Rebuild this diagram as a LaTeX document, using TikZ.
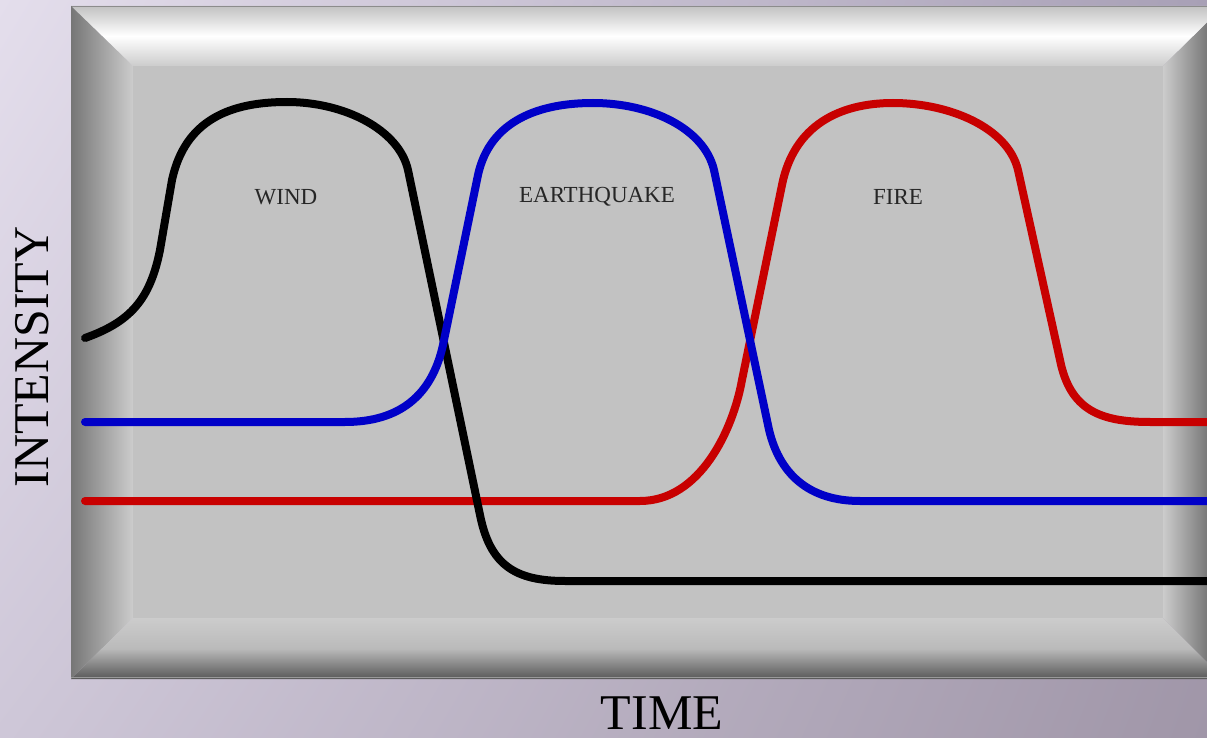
\documentclass[tikz,border=0pt]{standalone}
\usepackage{fontspec}
\setmainfont{Liberation Serif}
\usetikzlibrary{calc,shadings}

\definecolor{eqblue}{RGB}{0,0,200}
\definecolor{firered}{RGB}{200,0,0}
\definecolor{panelgray}{RGB}{194,194,194}
\definecolor{bevellight}{RGB}{204,204,204}
\definecolor{beveldark}{RGB}{118,118,118}
\definecolor{bevelshadow}{RGB}{88,88,88}
\definecolor{bgtl}{RGB}{228,222,236}
\definecolor{bgtr}{RGB}{168,160,182}
\definecolor{bgbl}{RGB}{206,199,216}
\definecolor{bgbr}{RGB}{160,150,168}

\begin{document}
\begin{tikzpicture}[x=0.5pt,y=-0.5pt,
    curve/.style={line width=4pt, line cap=round, line join=round},
    hazard/.style={text=black!85, font=\fontsize{11.5}{13}\selectfont},
    axislabel/.style={font=\fontsize{25}{30}\selectfont}]
  \useasboundingbox (0,0) rectangle (1207,738);

  \begin{scope}
    \clip (0,0) rectangle (1207,738);
    % background
    \shade [upper left=bgtl, upper right=bgtr, lower left=bgbl, lower right=bgbr] (0,0) rectangle (1207,738);

    % bevelled frame
    \shade [top color=black!24, bottom color=bevellight, middle color=white] (71,6) -- (1224,6) -- (1163,66) -- (133,66) -- cycle;
    \draw [black!45, line width=0.6pt] (71,6.5) -- (1224,6.5);
    \shade [left color=beveldark, right color=bevellight] (71,6) -- (133,66) -- (133,618) -- (71,679) -- cycle;
    \shade [top color=bevellight, bottom color=bevelshadow, middle color=black!27] (71,679) -- (133,618) -- (1163,618) -- (1224,679) -- cycle;
    \shade [left color=bevellight, right color=bevelshadow] (1163,66) -- (1224,6) -- (1224,679) -- (1163,618) -- cycle;
    \draw [black!40, line width=0.6pt] (71,677.5) -- (1224,677.5);
    \fill [panelgray] (133,66) rectangle (1163,618);

    % fire
    \draw [curve, firered] (85,501) -- (640,501) .. controls (700,501) and (733,430) .. (742,380) -- (782,185)
      .. controls (794,125) and (840,103) .. (893,103) .. controls (950,103) and (1008,128) .. (1018,170)
      -- (1060,360) .. controls (1070,410) and (1100,422) .. (1150,422) -- (1215,422);
    % wind
    \draw [curve, black] (85,338) .. controls (130,322) and (150,300) .. (160,250) -- (172,180)
      .. controls (185,120) and (230,102) .. (287,102) .. controls (345,102) and (399,130) .. (408,170)
      -- (480,515) .. controls (490,565) and (515,581) .. (565,581) -- (1215,581);
    % earthquake
    \draw [curve, eqblue] (85,422) -- (345,422) .. controls (400,422) and (432,395) .. (443,345) -- (478,175)
      .. controls (490,120) and (540,103) .. (593,103) .. controls (650,103) and (704,128) .. (714,170)
      -- (768,425) .. controls (778,475) and (810,501) .. (860,501) -- (1215,501);
  \end{scope}

  \node [hazard] (wind) at (286,197) {WIND};
  \node [hazard] (quake) at (597,197) {EARTHQUAKE};
  \node [hazard] (fire) at (898,197) {FIRE};

  \node [axislabel, rotate=90] (intensity) at (32,357) {INTENSITY};
  \node [axislabel] (time) at (662,713) {TIME};
\end{tikzpicture}
\end{document}
